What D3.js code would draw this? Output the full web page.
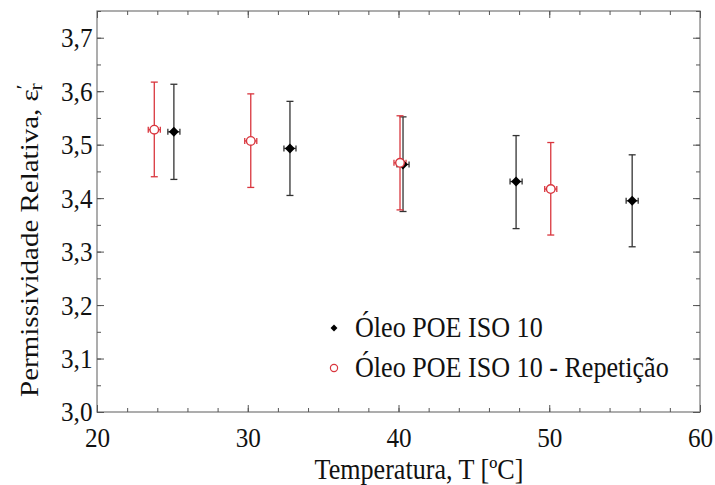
<!DOCTYPE html>
<html>
<head>
<meta charset="utf-8">
<script src="https://cdn.jsdelivr.net/npm/d3@7"></script>
<style>
  body { margin: 0; background: #fff; }
  svg text { font-family: "Liberation Serif", "Times New Roman", Times, serif; }
</style>
</head>
<body>
<div id="chart"></div>
<script>
const w = 715;
const h = 485;
const margin = {top: 11, right: 15, bottom: 73, left: 97};

// series 1: Óleo POE ISO 10
const tempA = [25.1, 32.8, 40.3, 47.8, 55.5];
const epsA = [3.524, 3.493, 3.463, 3.431, 3.395];
const errLoA = [3.435, 3.405, 3.375, 3.343, 3.309];
const errHiA = [3.613, 3.581, 3.552, 3.517, 3.481];

// series 2: repetição
const tempB = [23.8, 30.2, 40.1, 50.1];
const epsB = [3.528, 3.507, 3.466, 3.417];
const errLoB = [3.440, 3.420, 3.378, 3.331];
const errHiB = [3.617, 3.595, 3.554, 3.504];

const tErr = 0.4;

const xTicks = [20, 30, 40, 50, 60];
const yTicks = [3.0, 3.1, 3.2, 3.3, 3.4, 3.5, 3.6, 3.7];
const labels = ['Óleo POE ISO 10', 'Óleo POE ISO 10 - Repetição'];

const red = '#d9363e';
// the original text looks a bit narrow, squeeze horizontally
const squeeze = 'scale(0.9,1)';

const svg = d3.select('#chart').append('svg')
    .attr('width', w)
    .attr('height', h);

const xScale = d3.scaleLinear().domain([20, 60]).range([margin.left, w - margin.right]);
const yScale = d3.scaleLinear().domain([3.0, 3.75]).range([h - margin.bottom, margin.top]);

const x0 = xScale(20), x1 = xScale(60), y0 = yScale(3.0), y1 = yScale(3.75);

// frame
svg.append('rect')
    .attr('x', x0).attr('y', y1)
    .attr('width', x1 - x0).attr('height', y0 - y1)
    .attr('fill', 'none').attr('stroke', '#777').attr('stroke-width', 1.2);

const xMinor = d3.range(20, 60.01, 2);
const yMinor = d3.range(3.0, 3.751, 0.05);

function tickAxes(axisFn, scale, ticks, size, transform, fmt) {
  const g = svg.append('g').attr('transform', transform)
    .call(axisFn(scale).tickValues(ticks).tickSize(size).tickFormat(fmt));
  g.select('.domain').remove();
  g.attr('font-family', null);
  g.selectAll('.tick line').attr('stroke', '#555');
  return g;
}

const comma = d3.format('.1f');
const yFmt = d => comma(d).replace('.', ',');

// bottom
const gx = tickAxes(d3.axisBottom, xScale, xTicks, -7, `translate(0,${y0})`, d3.format('d'));
gx.selectAll('text').attr('y', 15).attr('font-size', 28).attr('fill', '#111').attr('transform', squeeze);
tickAxes(d3.axisBottom, xScale, xMinor, -4, `translate(0,${y0})`, '');
// top
tickAxes(d3.axisTop, xScale, xTicks, -7, `translate(0,${y1})`, '');
tickAxes(d3.axisTop, xScale, xMinor, -4, `translate(0,${y1})`, '');
// left
const gy = tickAxes(d3.axisLeft, yScale, yTicks, -7, `translate(${x0},0)`, yFmt);
gy.selectAll('text').attr('x', -5).attr('font-size', 28).attr('fill', '#111').attr('transform', squeeze);
tickAxes(d3.axisLeft, yScale, yMinor, -4, `translate(${x0},0)`, '');
// right
tickAxes(d3.axisRight, yScale, yTicks, -7, `translate(${x1},0)`, '');
tickAxes(d3.axisRight, yScale, yMinor, -4, `translate(${x1},0)`, '');

// axis titles
svg.append('text')
    .attr('transform', `translate(419,479) ${squeeze}`)
    .attr('text-anchor', 'middle').attr('font-size', 29).attr('fill', '#111')
    .text('Temperatura, T [ºC]');

const yl = svg.append('text')
    .attr('transform', `translate(38,240) ${squeeze} rotate(-90)`)
    .attr('text-anchor', 'middle').attr('font-size', 29).attr('fill', '#111');
yl.append('tspan').text('Permissividade Relativa, ε');
yl.append('tspan').text('\u2032').attr('dy', -9).attr('font-size', 22);
yl.append('tspan').text('r').attr('dy', 13).attr('dx', -6).attr('font-size', 22);

// error bars
function errorBars(temps, eps, lo, hi, color) {
  const g = svg.append('g').attr('stroke', color).attr('stroke-width', 1.3).attr('fill', 'none');
  temps.forEach((t, i) => {
    const cx = xScale(t), cy = yScale(eps[i]);
    g.append('line').attr('x1', cx).attr('x2', cx).attr('y1', yScale(lo[i])).attr('y2', yScale(hi[i]));
    g.append('line').attr('x1', cx - 3.5).attr('x2', cx + 3.5).attr('y1', yScale(lo[i])).attr('y2', yScale(lo[i]));
    g.append('line').attr('x1', cx - 3.5).attr('x2', cx + 3.5).attr('y1', yScale(hi[i])).attr('y2', yScale(hi[i]));
    const xl = xScale(t - tErr), xr = xScale(t + tErr);
    g.append('line').attr('x1', xl).attr('x2', xr).attr('y1', cy).attr('y2', cy);
    g.append('line').attr('x1', xl).attr('x2', xl).attr('y1', cy - 3).attr('y2', cy + 3);
    g.append('line').attr('x1', xr).attr('x2', xr).attr('y1', cy - 3).attr('y2', cy + 3);
  });
}

errorBars(tempA, epsA, errLoA, errHiA, '#333');
errorBars(tempB, epsB, errLoB, errHiB, red);

// rotated square = diamond
const diamond = d3.symbol().type(d3.symbolSquare).size(50);

svg.append('g').selectAll('path')
    .data(tempA)
    .enter()
    .append('path')
    .attr('d', diamond)
    .attr('transform', (d, i) => `translate(${xScale(d)},${yScale(epsA[i])}) rotate(45)`)
    .attr('fill', '#000');

svg.append('g').selectAll('circle')
    .data(tempB)
    .enter()
    .append('circle')
    .attr('cx', d => xScale(d))
    .attr('cy', (d, i) => yScale(epsB[i]))
    .attr('r', 4.3)
    .attr('fill', '#fff')
    .attr('stroke', red)
    .attr('stroke-width', 1.4);

// legend
const lg = svg.append('g').attr('transform', 'translate(334,328)');
lg.append('path').attr('d', d3.symbol().type(d3.symbolSquare).size(24))
  .attr('transform', 'rotate(45)').attr('fill', '#000');
lg.append('circle').attr('cx', 0).attr('cy', 40).attr('r', 3.6).attr('fill', '#fff')
  .attr('stroke', red).attr('stroke-width', 1.2);
lg.selectAll('text.lab')
    .data(labels)
    .enter()
    .append('text')
    .attr('class', 'lab')
    .attr('transform', (d, i) => `translate(21,${i * 40 + 9}) ${squeeze}`)
    .attr('font-size', 29)
    .attr('fill', '#111')
    .text(d => d);
</script>
</body>
</html>
